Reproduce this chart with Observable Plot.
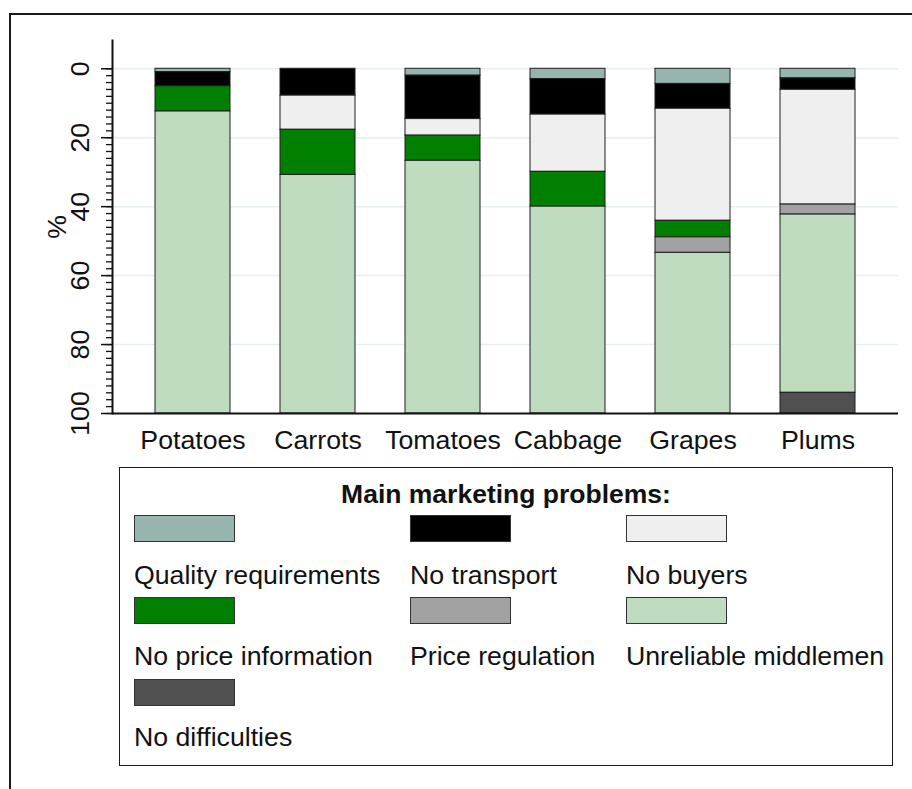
<!DOCTYPE html>
<html>
<head>
<meta charset="utf-8">
<script src="https://cdn.jsdelivr.net/npm/d3@7"></script>
<script src="https://cdn.jsdelivr.net/npm/@observablehq/plot@0.6"></script>
<style>
  html, body { margin: 0; padding: 0; background: #fff; }
  #wrap { position: relative; width: 912px; height: 789px; overflow: hidden; font-family: "Liberation Sans", Arial, sans-serif; color: #111; }
  #frame { position: absolute; left: 9px; top: 13px; width: 1000px; height: 1000px; border: 2.5px solid #1a1a1a; box-sizing: border-box; }
  #chart { position: absolute; left: 0; top: 0; }
  #legend { position: absolute; left: 119px; top: 467px; width: 774px; height: 299px; border: 1.5px solid #1a1a1a; box-sizing: border-box; }
  .lg-title { position: absolute; left: 0; width: 100%; text-align: center; font-weight: bold; font-size: 26.5px; line-height: 26.5px; white-space: nowrap; }
  .sw { position: absolute; width: 101px; height: 27px; border: 1.5px solid #333; box-sizing: border-box; }
  .lb { position: absolute; font-size: 26.7px; line-height: 26.7px; white-space: nowrap; }
</style>
</head>
<body>
<div id="wrap">
  <div id="frame"></div>
  <div id="chart"></div>
  <div id="legend"></div>
</div>
<script>
// ---- data (percent of respondents) ----
const crops = ["Potatoes", "Carrots", "Tomatoes", "Cabbage", "Grapes", "Plums"];
const problems = ["Quality requirements", "No transport", "No buyers", "No price information", "Price regulation", "Unreliable middlemen", "No difficulties"];
const colors = ["#97b5af", "#000000", "#efefef", "#007f00", "#a2a2a2", "#c0dcc0", "#505050"];
const quality   = [1.0, 0.0, 2.0, 3.0, 4.4, 2.8];
const transport = [4.1, 7.8, 12.6, 10.3, 7.2, 3.3];
const buyers    = [0.0, 9.9, 4.8, 16.6, 32.5, 33.3];
const priceInfo = [7.3, 13.1, 7.3, 10.1, 4.8, 0.0];
const priceReg  = [0.0, 0.0, 0.0, 0.0, 4.5, 2.9];
const middlemen = [87.6, 69.2, 73.3, 60.0, 46.6, 51.7];
const noDiff    = [0.0, 0.0, 0.0, 0.0, 0.0, 6.0];
const yTicks = [0, 20, 40, 60, 80, 100];
const gridTicks = [0, 20, 40, 60, 80];
const minorTicks = d3.range(0, 101, 2);
const legendTitle = "Main marketing problems:";

const series = [quality, transport, buyers, priceInfo, priceReg, middlemen, noDiff];
const rows = [];
crops.forEach((c, i) => {
  problems.forEach((p, j) => {
    const v = series[j][i];
    if (v > 0) rows.push({crop: c, problem: p, value: v});
  });
});

const font = '"Liberation Sans", Arial, sans-serif';
const fs = 26.7;
const chart = Plot.plot({
  width: 912,
  height: 460,
  marginLeft: 112,
  marginRight: 14,
  marginTop: 40,
  marginBottom: 47,
  style: {fontFamily: font, fontSize: fs + "px", background: "transparent", color: "#111", overflow: "visible"},
  x: {domain: crops, paddingInner: 0.4, paddingOuter: 0.334, label: null},
  y: {domain: [-8.2, 100], reverse: true, label: null},
  color: {domain: problems, range: colors},
  marks: [
    Plot.gridY(gridTicks, {stroke: "#e6eef1", strokeOpacity: 1, strokeWidth: 1.5}),
    Plot.barY(rows, {x: "crop", y: "value", fill: "problem", order: problems, stroke: "#1e1e1e", strokeWidth: 1, inset: 0}),
    Plot.axisY({ticks: minorTicks, tickSize: 6, tickFormat: () => "", stroke: "#111", strokeWidth: 1.3, label: null}),
    Plot.axisY({ticks: yTicks, tickSize: 11, tickFormat: () => "", stroke: "#111", strokeWidth: 1.5, label: null}),
    Plot.text(yTicks, {y: d => d, text: d => String(d), frameAnchor: "left", dx: -24, rotate: -90, textAnchor: "middle", lineAnchor: "bottom", fontSize: fs, fill: "#111"}),
    Plot.text(["%"], {text: d => d, frameAnchor: "left", dx: -47, rotate: -90, textAnchor: "middle", lineAnchor: "bottom", fontSize: fs, fill: "#111"}),
    Plot.axisX({tickSize: 0, tickPadding: 17, fontSize: fs, label: null, fill: "#111"}),
    Plot.frame({anchor: "left", stroke: "#111", strokeWidth: 2}),
    Plot.ruleY([100], {stroke: "#111", strokeWidth: 2})
  ]
});
document.getElementById("chart").appendChild(chart);

// ---- legend ----
const lg = document.getElementById("legend");
const ox = 119, oy = 467;
const t = document.createElement("div");
t.className = "lg-title";
t.style.top = (480 - oy) + "px";
t.textContent = legendTitle;
lg.appendChild(t);
const colX = [133, 409, 625];
const swY = [514, 596, 678];
const lbY = [561, 642, 723];
problems.forEach((p, i) => {
  const r = Math.floor(i / 3), c = i % 3;
  const s = document.createElement("div");
  s.className = "sw";
  s.style.left = (colX[c] - ox) + "px";
  s.style.top = (swY[r] - oy) + "px";
  s.style.background = colors[i];
  lg.appendChild(s);
  const l = document.createElement("div");
  l.className = "lb";
  l.style.left = (colX[c] - ox) + "px";
  l.style.top = (lbY[r] - oy) + "px";
  l.textContent = p;
  lg.appendChild(l);
});
</script>
</body>
</html>
